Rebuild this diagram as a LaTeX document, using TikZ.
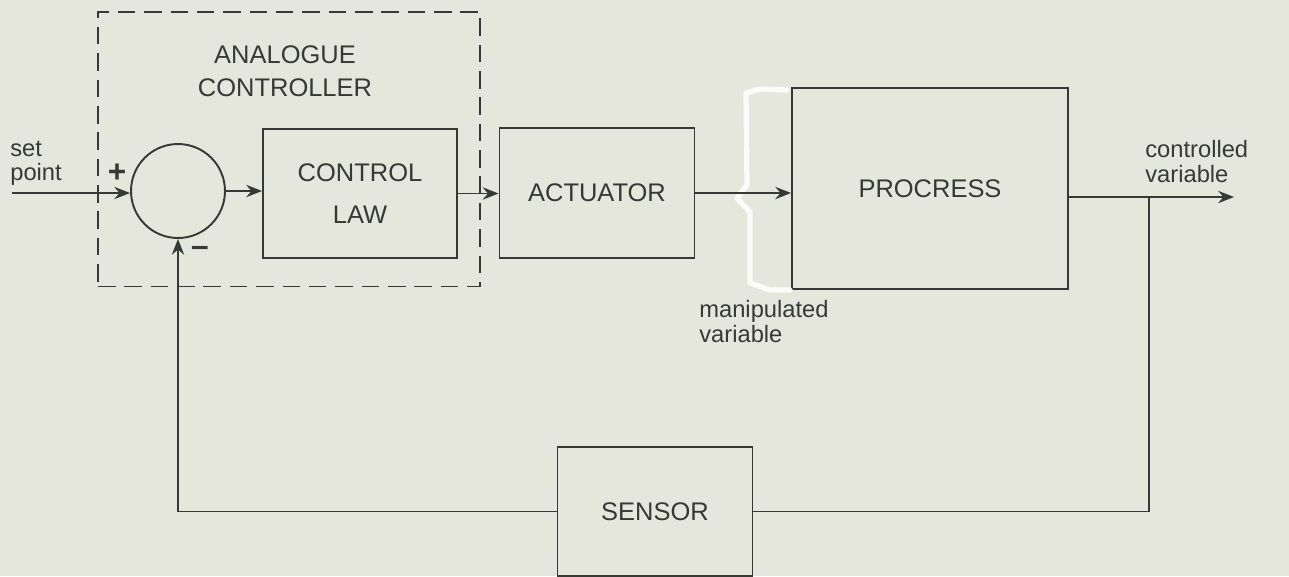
\documentclass[tikz,border=0pt]{standalone}
\usepackage{fontspec}
\setmainfont{Liberation Sans}
\usetikzlibrary{arrows.meta}
\definecolor{paper}{RGB}{229,231,221}
\definecolor{ink}{RGB}{55,57,52}
\tikzset{
  ln/.style={draw=ink, line width=1.1pt},
  arr/.style={ln, -{Stealth[length=9pt,width=7pt,inset=3pt]}},
  blk/.style={ln, rectangle, inner sep=0pt, align=center, font=\fontsize{14.5}{24}\selectfont, text=ink},
  lbl/.style={font=\fontsize{13.5}{14}\selectfont, text=ink, align=left, inner sep=0pt},
  titletext/.style={font=\fontsize{14.5}{19}\selectfont, text=ink, align=center, inner sep=0pt},
}
\begin{document}
\begin{tikzpicture}[x=0.02cm,y=-0.02cm]
\useasboundingbox[fill=paper] (0,0) rectangle (1289,576);
% dashed controller frame
\node[ln, dash pattern=on 10pt off 5pt, rectangle, minimum width=7.64cm, minimum height=5.5cm, inner sep=0pt] (frame) at (289,149) {};
\node[titletext] (ttl) at (285,71) {ANALOGUE\\CONTROLLER};
% blocks
\node[ln, circle, minimum size=1.88cm, inner sep=0pt] (sum) at (178,191) {};
\node[blk, minimum width=3.88cm, minimum height=2.58cm] (cl) at (360,193.5) {CONTROL\\LAW};
\node[blk, minimum width=3.9cm, minimum height=2.6cm] (act) at (597,193) {ACTUATOR};
\node[blk, minimum width=5.52cm, minimum height=4.02cm] (proc) at (930,188.5) {PROCRESS};
\node[blk, minimum width=3.9cm, minimum height=2.58cm] (sen) at (655,511.5) {SENSOR};
% whiteout mark
\draw[white, opacity=0.85, line width=3pt, line cap=round, line join=round]
  (787,90) -- (760,89) -- (746,93) -- (747,185) -- (737,198) -- (750,212) -- (750,283) -- (770,290) -- (790,290);
% signal labels
\node[lbl, anchor=south west] (spl) at (10,186) {set\\point};
\node[lbl, anchor=north west] (mvl) at (699,300) {manipulated\\variable};
\node[lbl, anchor=south west] (cvl) at (1145,183) {controlled\\variable};
\node[text=ink, font=\bfseries\fontsize{18}{18}\selectfont, inner sep=0pt] (plus) at (117,173) {+};
\node[text=ink, font=\bfseries\fontsize{18}{18}\selectfont, inner sep=0pt] (minus) at (200,251) {--};
% connectors
\coordinate (sp) at (12,193);
\draw[arr] (sp) -- (sp -| sum.west);
\draw[arr] (sum.east) -- (sum.east -| cl.west);
\draw[arr] (cl.east) -- (cl.east -| act.west);
\draw[arr] (act.east) -- (act.east -| proc.west);
\coordinate (out) at (1234,197);
\coordinate (br) at (1149,197);
\draw[arr] (proc.east |- out) -- (out);
\draw[ln] (br) |- (sen.east);
\draw[arr] (sen.west) -| (sum.south);
\end{tikzpicture}
\end{document}
